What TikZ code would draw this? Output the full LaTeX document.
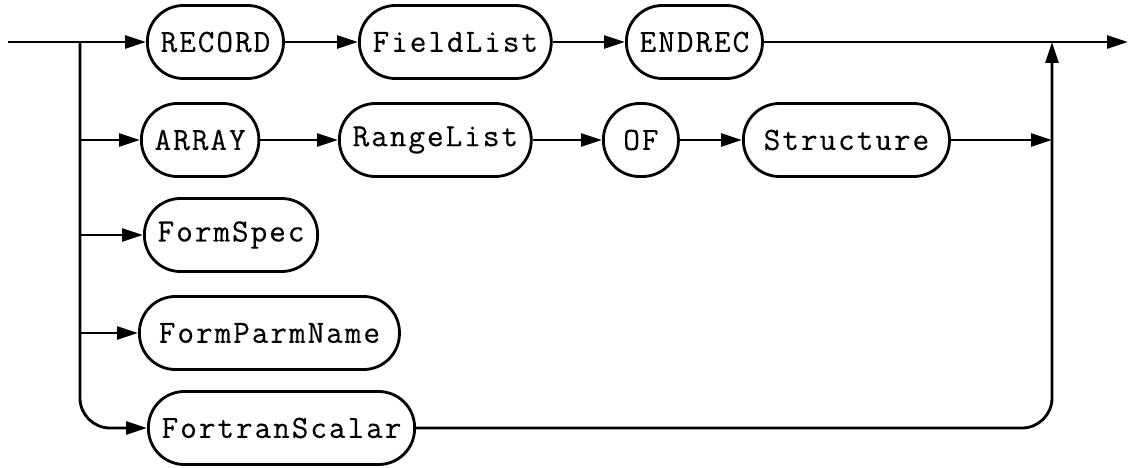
\documentclass[tikz,border=0pt]{standalone}
\usepackage{fontspec}
\newfontfamily\railfont{Latin Modern Mono}[LetterSpace=6, FakeBold=0.25]
\usetikzlibrary{arrows.meta}

\begin{document}
\begin{tikzpicture}[x=0.025cm, y=-0.025cm, line width=2pt,
	term/.style={draw, anchor=west, rounded corners=0.9cm, minimum height=1.825cm, minimum width=1.875cm, inner xsep=0.33cm, font=\railfont\fontsize{23}{26}\selectfont},
	flow/.style={-{Triangle[length=0.52cm, width=0.32cm]}}]
	\useasboundingbox (0,0) rectangle (1131,467);
	% first row
	\node[term] (record) at (146,42) {RECORD};
	\node[term] (fields) at (358,42) {FieldList};
	\node[term] (endrec) at (625,42) {ENDREC};
	% second row
	\node[term] (array) at (140,140) {ARRAY};
	\node[term] (ranges) at (338,140) {RangeList};
	\node[term] (of) at (602,140) {OF};
	\node[term, minimum width=5.15cm] (struct) at (742,140) {Structure};
	% single boxes
	\node[term] (formspec) at (143,235) {FormSpec};
	\node[term, minimum width=6.5cm] (parmname) at (138,333) {FormParmName};
	\node[term] (fortran) at (147,428) {FortranScalar};
	% entry, split, join and exit points
	\coordinate (in) at (8,42);
	\coordinate (split) at (80,42);
	\coordinate (join) at (1052,42);
	\coordinate (out) at (1128,42);
	% connectors
	\draw[flow] (in) -- (record);
	\draw[flow] (record) -- (fields);
	\draw[flow] (fields) -- (endrec);
	\draw[flow] (endrec) -- (out);
	\draw[flow] (split) |- (array);
	\draw[flow] (array) -- (ranges);
	\draw[flow] (ranges) -- (of);
	\draw[flow] (of) -- (struct);
	\draw[flow] (struct) -- (struct -| join);
	\draw[flow] (split) |- (formspec);
	\draw[flow] (split) |- (parmname);
	\draw[flow, rounded corners=0.75cm] (split) |- (fortran);
	\draw[flow, rounded corners=0.75cm] (fortran) -| (join);
\end{tikzpicture}
\end{document}
